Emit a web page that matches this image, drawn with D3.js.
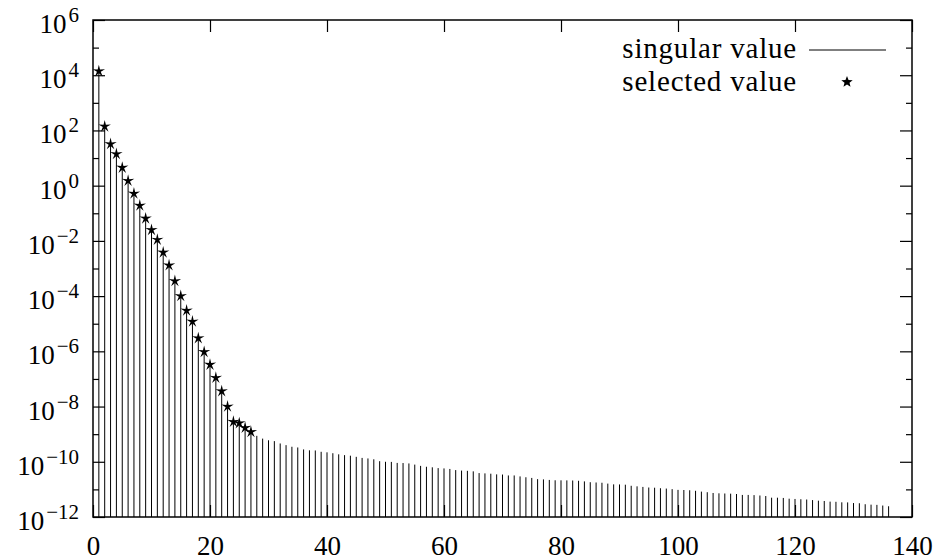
<!DOCTYPE html>
<html lang="en">
<head>
  <meta charset="UTF-8">
  <title>Singular values</title>
  <script src="https://d3js.org/d3.v7.min.js"></script>
  <style>
    body {
      margin: 0;
      background: #fff;
    }
    svg {
      display: block;
    }
  </style>
</head>
<body>
  <svg width="940" height="560"></svg>

  <script>
    // singular values, index 1..136
    const singularValues = [
      1.4e4, 1.4e2, 3.2e1, 1.4e1, 4.5, 1.5, 5.2e-1, 1.9e-1, 6.5e-2, 2.5e-2,
      1.1e-2, 3.8e-3, 1.3e-3, 3.5e-4, 1.0e-4, 3.0e-5, 1.2e-5, 3.0e-6, 9.5e-7, 3.3e-7,
      1.1e-7, 3.6e-8, 1.0e-8, 2.8e-9, 2.5e-9, 1.7e-9, 1.2e-9, 8.7e-10, 6.9e-10, 6.0e-10,
      5.6e-10, 4.6e-10, 4.0e-10, 3.5e-10, 3.3e-10, 2.8e-10, 2.6e-10, 2.57e-10, 2.3e-10, 2.2e-10,
      2.04e-10, 1.86e-10, 1.74e-10, 1.66e-10, 1.51e-10, 1.38e-10, 1.32e-10, 1.23e-10, 1.05e-10, 1.0e-10,
      9.9e-11, 9.1e-11, 9.0e-11, 8.7e-11, 7.9e-11, 7.1e-11, 6.6e-11, 6.3e-11, 5.9e-11, 5.75e-11,
      5.5e-11, 5.0e-11, 4.8e-11, 4.7e-11, 4.5e-11, 3.9e-11, 3.8e-11, 3.7e-11, 3.5e-11, 3.45e-11,
      3.2e-11, 3.2e-11, 2.95e-11, 2.75e-11, 2.6e-11, 2.35e-11, 2.3e-11, 2.2e-11, 2.14e-11, 2.13e-11,
      2.12e-11, 2.1e-11, 2.05e-11, 1.95e-11, 1.82e-11, 1.78e-11, 1.74e-11, 1.62e-11, 1.52e-11, 1.51e-11,
      1.48e-11, 1.35e-11, 1.29e-11, 1.23e-11, 1.17e-11, 1.15e-11, 1.1e-11, 1.07e-11, 1.02e-11, 9.6e-12,
      9.5e-12, 9.3e-12, 8.9e-12, 8.3e-12, 7.9e-12, 7.4e-12, 7.2e-12, 7.1e-12, 7.0e-12, 6.8e-12,
      6.3e-12, 6.3e-12, 6.2e-12, 6.0e-12, 5.75e-12, 5.0e-12, 5.0e-12, 4.9e-12, 4.6e-12, 4.5e-12,
      4.4e-12, 4.3e-12, 4.1e-12, 3.9e-12, 3.8e-12, 3.6e-12, 3.55e-12, 3.4e-12, 3.38e-12, 3.2e-12,
      3.15e-12, 2.9e-12, 2.8e-12, 2.75e-12, 2.6e-12, 2.45e-12
    ];
    // selected values, index 1..27
    const selectedValues = [
      1.4e4, 1.4e2, 3.2e1, 1.4e1, 4.5, 1.5, 5.2e-1, 1.9e-1, 6.5e-2, 2.5e-2,
      1.1e-2, 3.8e-3, 1.3e-3, 3.5e-4, 1.0e-4, 3.0e-5, 1.2e-5, 3.0e-6, 9.5e-7, 3.3e-7,
      1.1e-7, 3.6e-8, 1.0e-8, 2.8e-9, 2.5e-9, 1.7e-9, 1.2e-9
    ];
    const xTicks = [0, 20, 40, 60, 80, 100, 120, 140];
    const yMajorTicks = [1e-12, 1e-10, 1e-8, 1e-6, 1e-4, 1e-2, 1e0, 1e2, 1e4, 1e6];
    const yMinorTicks = [1e-11, 1e-9, 1e-7, 1e-5, 1e-3, 1e-1, 1e1, 1e3, 1e5];
    const legendLabels = ["singular value", "selected value"];

    const FONT = '"Liberation Serif", "Times New Roman", "DejaVu Serif", serif';
    const m = { left: 93, right: 912, top: 20, bottom: 517 };
    const svg = d3.select("svg");

    const x = d3.scaleLinear().domain([0, 140]).range([m.left, m.right]);
    const y = d3.scaleLog().domain([1e-12, 1e6]).range([m.bottom, m.top]);

    // star marker: thin five-point star
    function starPath(cx, cy, R, r) {
      const p = d3.path();
      for (let k = 0; k < 10; k++) {
        const a = -Math.PI / 2 + k * Math.PI / 5;
        const rad = k % 2 === 0 ? R : r;
        const px = cx + rad * Math.cos(a), py = cy + rad * Math.sin(a);
        if (k === 0) p.moveTo(px, py); else p.lineTo(px, py);
      }
      p.closePath();
      return p.toString();
    }

    // impulses
    svg.append("g")
      .attr("stroke", "#000")
      .attr("stroke-width", 1)
      .selectAll("line")
      .data(singularValues)
      .join("line")
      .attr("x1", (d, i) => x(i + 1))
      .attr("x2", (d, i) => x(i + 1))
      .attr("y1", y(1e-12))
      .attr("y2", d => y(d));

    // selected stars
    svg.append("g")
      .selectAll("path")
      .data(selectedValues)
      .join("path")
      .attr("d", (d, i) => starPath(x(i + 1), y(d), 6.5, 2))
      .attr("fill", "#000");

    // axes
    function styleAxis(g) {
      g.select(".domain").remove();
      g.attr("font-family", FONT).attr("font-size", 27);
      g.selectAll("line").attr("stroke", "#000").attr("stroke-width", 1.2);
      g.selectAll("text").attr("fill", "#000").attr("font-family", FONT);
    }

    svg.append("g")
      .attr("transform", `translate(0,${m.bottom})`)
      .call(d3.axisBottom(x).tickValues(xTicks).tickSize(-12).tickPadding(19).tickFormat(d3.format("d")))
      .call(styleAxis);
    svg.append("g")
      .attr("transform", `translate(0,${m.top})`)
      .call(d3.axisTop(x).tickValues(xTicks).tickSize(-12).tickFormat(""))
      .call(styleAxis);

    const leftAxis = svg.append("g")
      .attr("transform", `translate(${m.left},0)`)
      .call(d3.axisLeft(y).tickValues(yMajorTicks).tickSize(-12).tickPadding(14).tickFormat(d => Math.round(Math.log10(d))))
      .call(styleAxis);
    svg.append("g")
      .attr("transform", `translate(${m.left},0)`)
      .call(d3.axisLeft(y).tickValues(yMinorTicks).tickSize(-6).tickFormat(""))
      .call(styleAxis);
    svg.append("g")
      .attr("transform", `translate(${m.right},0)`)
      .call(d3.axisRight(y).tickValues(yMajorTicks).tickSize(-12).tickFormat(""))
      .call(styleAxis);
    svg.append("g")
      .attr("transform", `translate(${m.right},0)`)
      .call(d3.axisRight(y).tickValues(yMinorTicks).tickSize(-6).tickFormat(""))
      .call(styleAxis);

    // 10^n labels
    leftAxis.selectAll("text").each(function() {
      const t = d3.select(this);
      const e = t.text().replace("-", "\u2212");
      t.text("").attr("dy", 12.5);
      t.append("tspan").text("10");
      t.append("tspan").attr("dx", 2).attr("dy", -11).attr("font-size", 21).text(e);
    });

    // frame
    svg.append("rect")
      .attr("x", m.left).attr("y", m.top)
      .attr("width", m.right - m.left).attr("height", m.bottom - m.top)
      .attr("fill", "none")
      .attr("stroke", "#000")
      .attr("stroke-width", 1.5);

    // legend
    const legend = svg.append("g")
      .attr("font-family", FONT)
      .attr("font-size", 29)
      .attr("text-anchor", "end");
    legend.selectAll("text")
      .data(legendLabels)
      .join("text")
      .attr("x", 797)
      .attr("y", (d, i) => 58 + i * 32.5)
      .attr("letter-spacing", 0.8)
      .attr("font-family", FONT)
      .attr("fill", "#000")
      .text(d => d);
    legend.append("line")
      .attr("x1", 809).attr("x2", 886)
      .attr("y1", 50).attr("y2", 50)
      .attr("stroke", "#000").attr("stroke-width", 1);
    legend.append("path")
      .attr("d", starPath(847, 82, 6, 2.6))
      .attr("fill", "#000");
  </script>
</body>
</html>
